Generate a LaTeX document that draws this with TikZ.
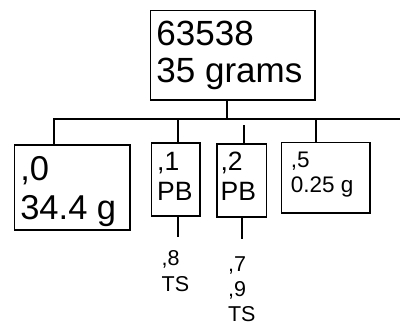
\documentclass[tikz,border=0pt]{standalone}
\usepackage{fontspec}
\setmainfont{Liberation Sans}

\begin{document}
\begin{tikzpicture}[x=1pt, y=-1pt,
  box/.style={draw, line width=1.7pt, anchor=north west, inner sep=0pt},
  txt/.style={anchor=north west, inner sep=0pt, align=left},
  link/.style={line width=1.7pt}]
\useasboundingbox (0,0) rectangle (400,325);

% boxes
\path (149.5,9.5) node[box, minimum width=164.5pt, minimum height=89.5pt] (top) {};
\path (13.5,144) node[box, minimum width=115.5pt, minimum height=85pt] (b0) {};
\path (150.7,142) node[box, minimum width=48.6pt, minimum height=73pt] (b1) {};
\path (216,143.3) node[box, minimum width=49.5pt, minimum height=72.7pt] (b2) {};
\path (280.7,141.5) node[box, minimum width=88.3pt, minimum height=70.8pt] (b5) {};

% texts
\path (156.3,21.2) node[txt, font=\fontsize{35}{36.6}\selectfont] (ttop) {63538\\35 grams};
\path (20.1,156.5) node[txt, font=\fontsize{34.5}{38.3}\selectfont] (t0) {,0\\34.4 g};
\path (157,152.2) node[txt, font=\fontsize{26.5}{30}\selectfont] (t1) {,1\\PB};
\path (220.4,152.2) node[txt, font=\fontsize{26.5}{30}\selectfont] (t2) {,2\\PB};
\path (290.7,151.5) node[txt, font=\fontsize{22.5}{25}\selectfont] (t5) {,5\\0.25 g};
\path (161.5,250.5) node[txt, font=\fontsize{21.5}{26}\selectfont] (l8) {,8\\TS};
\path (227.9,256.6) node[txt, font=\fontsize{21.5}{25}\selectfont] (l79) {,7\\,9\\TS};

% tree lines
\coordinate (jt) at (227,119.3);
\coordinate (bl) at (54,119.3);
\coordinate (br) at (400,119.3);
\coordinate (j1) at (178,118);
\coordinate (j2) at (244,125.3);
\coordinate (j5) at (316,119.3);
\coordinate (e1) at (178,237);
\coordinate (e2) at (241.7,239);

\draw[link] (top.south -| jt) -- (jt);
\draw[link] (br) -- (bl) -- (b0.north -| bl);
\draw[link] (j1) -- (b1.north -| j1);
\draw[link] (j2) -- (b2.north -| j2);
\draw[link] (j5) -- (b5.north -| j5);
\draw[link] (b1.south -| e1) -- (e1);
\draw[link] (b2.south -| e2) -- (e2);
\end{tikzpicture}
\end{document}
